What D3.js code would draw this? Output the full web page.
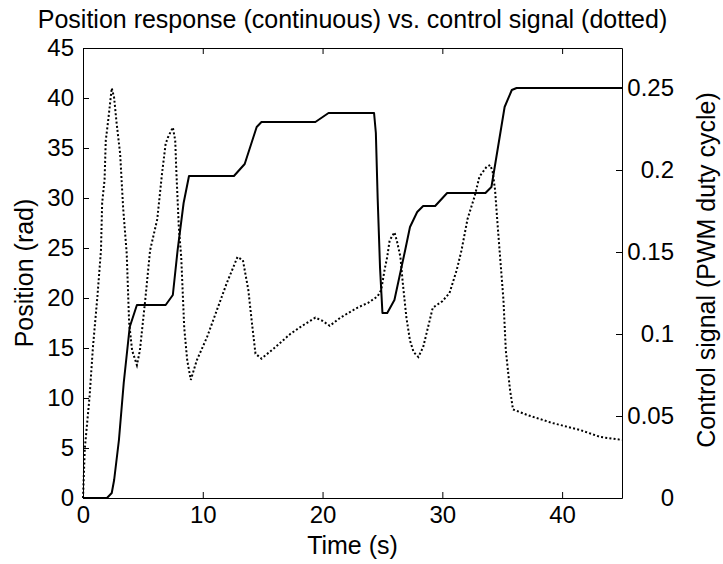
<!DOCTYPE html>
<html>
<head>
<meta charset="utf-8">
<script src="https://cdn.jsdelivr.net/npm/d3@7/dist/d3.min.js"></script>
<style>
  html, body { margin: 0; padding: 0; background: #fff; }
  svg { display: block; }
  text { font-family: Arial, "Liberation Sans", Helvetica, sans-serif; fill: #000; }
</style>
</head>
<body>
<script>
// Position response (left axis, rad) sampled over time (s)
const timePos = [0, 2.0, 2.4, 2.6, 3.0, 3.4, 3.9, 4.5, 6.9, 7.5, 7.9, 8.4, 8.85, 12.6, 13.5,
  14.5, 14.9, 19.4, 20.5, 24.3, 24.45, 24.6, 24.8, 25.0, 25.4, 26.0, 26.9, 27.3, 27.9, 28.4,
  29.4, 30.4, 33.6, 34.1, 35.2, 35.8, 36.2, 45];
const position = [0, 0, 0.5, 1.8, 5.8, 11.5, 17.1, 19.3, 19.3, 20.3, 24.8, 29.5, 32.2, 32.2, 33.4,
  37.1, 37.6, 37.6, 38.5, 38.5, 36.5, 30.0, 23.0, 18.5, 18.5, 19.8, 24.8, 27.1, 28.6, 29.2,
  29.2, 30.5, 30.5, 31.1, 39.1, 40.8, 41.0, 41.0];

// Control signal (right axis, PWM duty cycle) sampled over time (s)
const timeCtrl = [0, 0.15, 0.55, 0.83, 1.2, 1.5, 1.6, 1.8, 1.9, 2.1, 2.4, 2.6, 2.8, 3.1, 3.35,
  3.65, 3.85, 4.1, 4.5, 4.75, 5.2, 5.6, 6.2, 6.6, 6.9, 7.1, 7.5, 7.7, 7.8, 8.0, 8.2, 8.45, 8.7,
  9.0, 9.5, 10.35, 11.2, 12.0, 12.9, 13.35, 13.8, 14.1, 14.4, 14.9, 15.9, 17.3, 18.3, 19.4,
  20.0, 20.6, 21.5, 22.9, 23.8, 24.6, 24.9, 25.2, 25.4, 25.6, 26.0, 26.2, 26.5, 26.7, 27.0,
  27.3, 27.6, 28.0, 28.4, 28.8, 29.2, 30.0, 30.6, 31.2, 31.6, 32.1, 32.7, 33.1, 33.7, 34.0,
  34.2, 34.4, 34.6, 34.8, 35.1, 35.3, 35.65, 35.9, 37.1, 39.2, 41.5, 43.2, 45];
const control = [0, 0.03, 0.062, 0.092, 0.1226, 0.151, 0.18, 0.194, 0.218, 0.23, 0.25, 0.244,
  0.229, 0.21, 0.177, 0.149, 0.107, 0.090, 0.081, 0.090, 0.121, 0.151, 0.17, 0.198, 0.216,
  0.22, 0.226, 0.218, 0.198, 0.165, 0.147, 0.104, 0.084, 0.072, 0.084, 0.098, 0.115, 0.131,
  0.147, 0.145, 0.127, 0.107, 0.088, 0.085, 0.091, 0.1, 0.105, 0.110, 0.108, 0.105, 0.110,
  0.116, 0.119, 0.123, 0.127, 0.140, 0.147, 0.157, 0.162, 0.157, 0.147, 0.131, 0.110, 0.096,
  0.089, 0.086, 0.092, 0.104, 0.116, 0.12, 0.125, 0.139, 0.151, 0.17, 0.184, 0.196, 0.202,
  0.203, 0.199, 0.188, 0.168, 0.149, 0.121, 0.09, 0.066, 0.054, 0.0506, 0.0457, 0.0415,
  0.0372, 0.0354];

// Axis ticks and labels
const timeTicks = [0, 10, 20, 30, 40];
const posTicks = [0, 5, 10, 15, 20, 25, 30, 35, 40, 45];
const ctrlTicks = [0, 0.05, 0.1, 0.15, 0.2, 0.25];
const titleText = "Position response (continuous) vs. control signal (dotted)";
const xLabel = "Time (s)";
const yLeftLabel = "Position (rad)";
const yRightLabel = "Control signal (PWM duty cycle)";

const W = 723, H = 564;
const m = { left: 83, right: 101, top: 48, bottom: 66 };
const iw = W - m.left - m.right, ih = H - m.top - m.bottom;

const svg = d3.select("body").append("svg").attr("width", W).attr("height", H);
const g = svg.append("g").attr("transform", `translate(${m.left},${m.top})`);

const x = d3.scaleLinear().domain([0, 45]).range([0, iw]);
const yL = d3.scaleLinear().domain([0, 45]).range([ih, 0]);
const yR = d3.scaleLinear().domain([0, 0.2744]).range([ih, 0]);

const tickFont = 24, labelFont = 25;

function styleAxis(sel) {
  sel.select(".domain").attr("stroke", "#000").attr("stroke-width", 1);
  sel.selectAll(".tick line").attr("stroke", "#000").attr("stroke-width", 1);
  sel.selectAll(".tick text").style("font-size", tickFont + "px").attr("fill", "#000");
}

// Bottom axis with inward ticks
g.append("g").attr("transform", `translate(0,${ih})`)
  .call(d3.axisBottom(x).tickValues(timeTicks).tickSize(-6).tickSizeOuter(0).tickPadding(8).tickFormat(d3.format("d")))
  .call(styleAxis);

// Top axis (ticks only)
g.append("g")
  .call(d3.axisTop(x).tickValues(timeTicks).tickSize(-6).tickSizeOuter(0).tickFormat(""))
  .call(styleAxis);

// Left axis: position
g.append("g")
  .call(d3.axisLeft(yL).tickValues(posTicks).tickSize(-6).tickSizeOuter(0).tickPadding(9).tickFormat(d3.format("d")))
  .call(styleAxis);

// Right axis: control signal, labels right-aligned
const rAxis = g.append("g").attr("transform", `translate(${iw},0)`)
  .call(d3.axisRight(yR).tickValues(ctrlTicks).tickSize(-6).tickSizeOuter(0).tickFormat(d => d === 0 ? "0" : String(+d.toFixed(2))))
  .call(styleAxis);
rAxis.selectAll(".tick text").attr("text-anchor", "end").attr("x", 52);

// Position response (continuous)
g.append("path")
  .datum(timePos.map((t, i) => [t, position[i]]))
  .attr("fill", "none").attr("stroke", "#000").attr("stroke-width", 2).attr("stroke-linejoin", "round")
  .attr("d", d3.line().x(d => x(d[0])).y(d => yL(d[1])));

// Control signal (dotted)
g.append("path")
  .datum(timeCtrl.map((t, i) => [t, control[i]]))
  .attr("fill", "none").attr("stroke", "#000").attr("stroke-width", 2).attr("stroke-dasharray", "2,2.2")
  .attr("d", d3.line().x(d => x(d[0])).y(d => yR(d[1])));

// Title and axis labels
svg.append("text").attr("x", m.left + iw / 2).attr("y", 28).attr("text-anchor", "middle")
  .style("font-size", labelFont + "px").text(titleText);
svg.append("text").attr("x", m.left + iw / 2).attr("y", 554).attr("text-anchor", "middle")
  .style("font-size", labelFont + "px").text(xLabel);
svg.append("text").attr("transform", `translate(33,${m.top + ih / 2}) rotate(-90)`).attr("text-anchor", "middle")
  .style("font-size", labelFont + "px").text(yLeftLabel);
svg.append("text").attr("transform", `translate(715,${m.top + ih / 2 - 3}) rotate(-90)`).attr("text-anchor", "middle")
  .style("font-size", labelFont + "px").text(yRightLabel);
</script>
</body>
</html>
